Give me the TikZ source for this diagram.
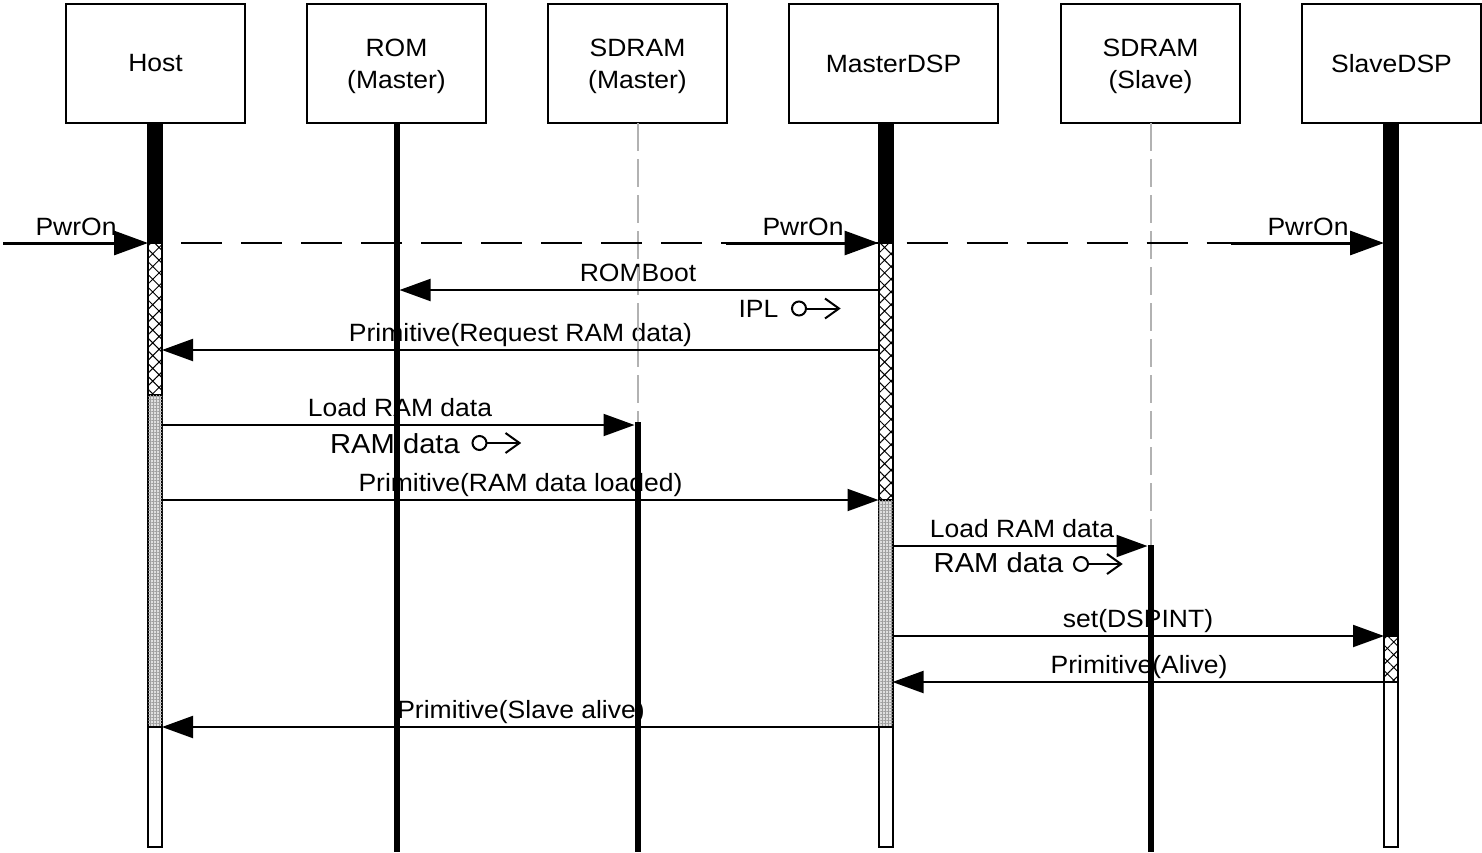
\documentclass[tikz,border=0pt]{standalone}
\usepackage{fontspec}
\setmainfont{Liberation Sans}[FakeStretch=1.06]
\usetikzlibrary{arrows.meta,patterns.meta}
\begin{document}
\begin{tikzpicture}[x=1pt,y=-1pt,
  every node/.style={inner sep=0pt,outer sep=0pt},
  hdr/.style={draw,line width=2pt,minimum width=179pt,minimum height=119pt,align=center,font=\fontsize{25}{32}\selectfont},
  hdrtxt/.style={align=center,font=\fontsize{25}{32}\selectfont},
  lbl/.style={anchor=base,font=\fontsize{25}{30}\selectfont},
  big/.style={anchor=base,font=\fontsize{27.5}{30}\selectfont},
  msg/.style={line width=2pt,-{Triangle[length=31pt,width=22pt]}},
  pwr/.style={line width=3pt,-{Triangle[length=34pt,width=24pt]}},
  dsh/.style={line width=2.2pt,dash pattern=on 41pt off 19pt},
  bar/.style={draw,line width=2pt,minimum width=14pt,fill=white},
  blackbar/.style={bar,fill=black},
  crossbar/.style={bar,postaction={pattern={Hatch[angle=45,distance=9pt,line width=1pt]}}},
  dotbar/.style={bar,fill=gray!25,postaction={pattern={Hatch[angle=0,distance=3pt,line width=0.9pt]},pattern color=gray!75}},
  life/.style={fill=black,minimum width=6pt},
  glife/.style={draw=gray!60,line width=2pt,dash pattern=on 28pt off 8pt},
  tok/.pic={\draw[line width=2pt] (0,0) circle (7pt);
            \draw[line width=2pt] (7,0) -- (40,0);
            \draw[line width=2pt] (26,-10) -- (40,0) -- (26,10);}
]
\useasboundingbox (0,0) rectangle (1482,852);

% header boxes
\node[hdr] (host) at (155.5,63.5) {Host};
\node[hdr] (rom) at (396.5,63.5) {};
\node[hdrtxt] (romt) at (396.5,66.5) {ROM\\(Master)};
\node[hdr] (sdm) at (637.5,63.5) {};
\node[hdrtxt] (sdmt) at (637.5,66.5) {SDRAM\\(Master)};
\node[hdr,minimum width=209pt] (mdsp) at (893.5,63.5) {MasterDSP};
\node[hdr] (sds) at (1150.5,63.5) {};
\node[hdrtxt] (sdst) at (1150.5,66.5) {SDRAM\\(Slave)};
\node[hdr] (sdsp) at (1391.5,63.5) {SlaveDSP};

% labels
\node[lbl] (lp1) at (76,235) {PwrOn};
\node[lbl] (lp2) at (803,235) {PwrOn};
\node[lbl] (lp3) at (1308,235) {PwrOn};
\node[lbl] (lrb) at (638,281) {ROMBoot};
\node[lbl] (lipl) at (758.5,317) {IPL};
\node[lbl] (lreq) at (520.5,341) {Primitive(Request RAM data)};
\node[lbl] (lld1) at (400,416) {Load RAM data};
\node[big] (lrd1) at (395,453) {RAM data};
\node[lbl] (lldd) at (520.5,491) {Primitive(RAM data loaded)};
\node[lbl] (lld2) at (1022,537) {Load RAM data};
\node[big] (lrd2) at (998.5,572) {RAM data};
\node[lbl] (lset) at (1138,627) {set(DSPINT)};
\node[lbl] (lalv) at (1139,673) {Primitive(Alive)};
\node[lbl] (lsal) at (521,718) {Primitive(Slave alive)};

% token glyphs
\pic at (799,308.5) {tok};
\pic at (479.5,443) {tok};
\pic at (1081,564) {tok};

% passive lifelines
\coordinate (sdmEnd) at (637.5,422);
\coordinate (sdsEnd) at (1150.5,545);
\draw[glife] (sdm.south) -- (sdmEnd);
\draw[glife] (sds.south) -- (sdsEnd);
\node[life,minimum height=728pt] (romL) at (396.5,488) {};
\node[life,minimum height=430pt] (sdmL) at (637.5,637) {};
\node[life,minimum height=307pt] (sdsL) at (1150.5,698.5) {};

% Host activation
\node[blackbar,minimum height=119pt] (hA) at (155,183.5) {};
\node[crossbar,minimum height=152pt] (hB) at (155,319) {};
\node[dotbar,minimum height=332pt] (hC) at (155,561) {};
\node[bar,minimum height=120pt] (hD) at (155,787) {};
% MasterDSP activation
\node[blackbar,minimum height=119pt] (mA) at (885.5,183.5) {};
\node[crossbar,minimum height=257pt] (mB) at (885.5,371.5) {};
\node[dotbar,minimum height=227pt] (mC) at (885.5,613.5) {};
\node[bar,minimum height=120pt] (mD) at (885.5,787) {};
% SlaveDSP activation
\node[blackbar,minimum height=512pt] (sA) at (1391,380) {};
\node[crossbar,minimum height=46pt] (sB) at (1391,659) {};
\node[bar,minimum height=165pt] (sD) at (1391,764.5) {};

% PwrOn
\coordinate (pw0) at (3,243);
\coordinate (pw1) at (726,243);
\coordinate (pw2) at (1231,243);
\draw[dsh,dash phase=41pt] (hB.north east) -- (mB.north west);
\draw[dsh,dash phase=46pt] (mB.north east) -- (sA.west |- mB.north);
\draw[pwr] (pw0) -- (hA.south west);
\draw[pwr] (pw1) -- (mA.south west);
\draw[pwr] (pw2) -- (sA.west |- mB.north);

% messages
\draw[msg] (mB.west |- 0,290) -- (romL.east |- 0,290);
\draw[msg] (mB.west |- 0,350) -- (hB.east |- 0,350);
\draw[msg] (hC.east |- 0,425) -- (sdmL.west |- 0,425);
\draw[msg] (hC.east |- 0,500) -- (mC.north west);
\draw[msg] (mC.east |- 0,546) -- (sdsL.west |- 0,546);
\draw[msg] (mC.east |- 0,636) -- (sB.north west);
\draw[msg] (sB.south east) -- (mC.east |- sB.south);
\draw[msg] (mC.south west) -- (hC.south east);
\end{tikzpicture}
\end{document}
